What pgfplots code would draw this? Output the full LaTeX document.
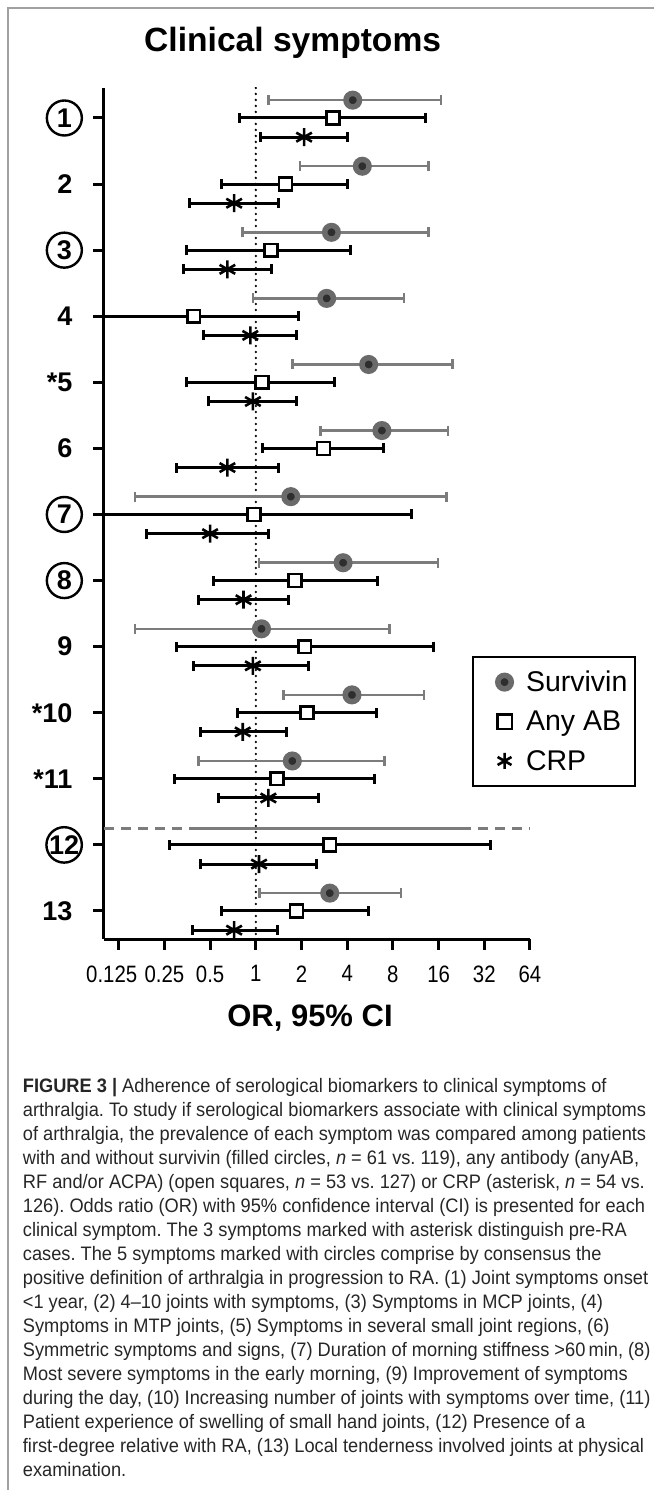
\documentclass[border=0pt]{standalone}
\usepackage{pgfplots}
\pgfplotsset{compat=1.18}
\usepackage{pgfplotstable}
\usepackage{fontspec}
\setmainfont{Liberation Sans}
\newfontfamily\capfont[FakeStretch=0.935]{Liberation Sans}
\newfontfamily\tickfont[FakeStretch=0.86]{Liberation Sans}
\definecolor{survouter}{HTML}{6A6A6A}
\definecolor{survinner}{HTML}{2E2E2E}
\definecolor{survbar}{HTML}{7C7C7C}
\definecolor{framegray}{HTML}{A0A0A0}
\definecolor{captext}{HTML}{262626}

% symptom, odds ratio, lower and upper 95% CI
\pgfplotstableread{
sym est lo hi
1 4.35 1.21 16.6
2 5.03 1.96 13.7
3 3.15 0.82 13.7
4 2.93 0.96 9.5
5 5.54 1.74 19.8
6 6.77 2.67 18.4
7 1.70 0.16 18.0
8 3.76 1.05 15.8
9 1.09 0.16 7.6
10 4.30 1.52 12.8
11 1.74 0.42 7.05
13 3.07 1.06 9.07
}\survivin

\pgfplotstableread{
sym est lo hi
1 3.23 0.776 13.1
2 1.57 0.595 4.0
3 1.26 0.35 4.19
4 0.39 0.08 1.9
5 1.10 0.35 3.31
6 2.79 1.10 6.96
7 0.975 0.08 10.6
8 1.81 0.53 6.36
9 2.10 0.30 14.8
10 2.17 0.76 6.2
11 1.38 0.29 6.05
12 3.07 0.27 35.2
13 1.85 0.59 5.54
}\anyab

\pgfplotstableread{
sym est lo hi
1 2.08 1.08 4.03
2 0.72 0.365 1.42
3 0.65 0.334 1.26
4 0.92 0.45 1.84
5 0.957 0.49 1.84
6 0.65 0.30 1.42
7 0.50 0.19 1.21
8 0.83 0.42 1.65
9 0.957 0.39 2.22
10 0.82 0.43 1.59
11 1.21 0.57 2.59
12 1.05 0.43 2.52
13 0.72 0.38 1.38
}\crp

\begin{document}
\frenchspacing
\begin{tikzpicture}[x=1pt,y=1pt]
\path[use as bounding box] (0,0) rectangle (654,1490);
\draw[framegray, line width=2pt] (7.5,0) -- (7.5,1481.7) -- (654,1481.7);
\node[anchor=base west, inner sep=0pt, font=\bfseries\fontsize{33.6}{36}\selectfont] at (144,1438) {Clinical symptoms};
\begin{axis}[
  at={(104pt,551pt)}, anchor=south west,
  scale only axis, width=426pt, height=851pt,
  xmode=log, log basis x=2,
  xmin=0.1, xmax=64, ymin=0.546, ymax=13.424, y dir=reverse,
  axis x line=bottom, axis y line=left,
  axis line style={-, line width=3pt, black},
  xtick={0.125,0.25,0.5,1,2,4,8,16,32,64},
  xticklabels={0.125\kern14pt,0.25,0.5,1,2,4,8,16,32,64},
  minor x tick num=0, xminorticks=false,
  ytick={2,4,5,6,9,10,11,13},
  yticklabels={2,4,*5,6,9,*10,*11,13},
  extra y ticks={1,3,7,8,12},
  extra y tick labels={1,3,7,8,12},
  extra y tick style={yticklabel style={circle, draw, line width=2.4pt, minimum size=35pt, inner sep=0pt, anchor=east, xshift=7pt}},
  tick align=outside,
  major tick length=11pt,
  tick style={line width=3pt, black},
  xticklabel style={font=\tickfont\fontsize{23.7}{24}\selectfont, yshift=-12pt},
  yticklabel style={font=\bfseries\fontsize{27}{28}\selectfont, anchor=east, xshift=-17pt},
  clip=true,
  legend style={at={(0.864,0.3325)}, anchor=north west, draw=black, line width=2pt,
    font=\fontsize{28.5}{30}\selectfont, inner xsep=6pt, inner ysep=12pt, row sep=14pt},
  legend cell align=left,
  legend image code/.code={\path[draw=none] (-25.5pt,0pt) -- (19.5pt,0pt); \draw[#1] plot coordinates {(0pt,0pt)};},
]
% reference line at OR = 1
\addplot[forget plot, black, line width=2.6pt, line cap=round, dash pattern=on 0pt off 6pt] coordinates {(1,0.546) (1,13.424)};

% Survivin, symptom 12 (estimate not defined)
\addplot[forget plot, survbar, line width=2.8pt, dash pattern=on 10pt off 7pt] coordinates {(0.1,11.75) (64,11.75)};
\addplot[forget plot, survbar, line width=2.8pt] coordinates {(0.37,11.75) (26,11.75)};

\addplot[only marks, mark=*, mark size=6.75pt,
  mark options={draw=survouter, fill=survinner, line width=5.5pt},
  error bars/.cd, x dir=both, x explicit, error mark=|,
  error bar style={line width=2.5pt, survbar},
  error mark options={line width=2.5pt, mark size=5pt, survbar}]
  table[x=est, y expr=\thisrow{sym}-0.27,
        x error plus expr=\thisrow{hi}-\thisrow{est},
        x error minus expr=\thisrow{est}-\thisrow{lo}] {\survivin};
\addlegendentry{Survivin}

\addplot[only marks, mark=square*, mark size=6.4pt,
  mark options={draw=black, fill=white, line width=2.5pt},
  legend image post style={mark size=7.2pt},
  error bars/.cd, x dir=both, x explicit, error mark=|,
  error bar style={line width=3pt, black},
  error mark options={line width=3pt, mark size=5pt, black}]
  table[x=est, y expr=\thisrow{sym},
        x error plus expr=\thisrow{hi}-\thisrow{est},
        x error minus expr=\thisrow{est}-\thisrow{lo}] {\anyab};
\addlegendentry{Any AB}

\addplot[only marks, mark=asterisk, mark size=9pt,
  mark options={draw=black, line width=2.6pt},
  legend image post style={mark size=8pt},
  error bars/.cd, x dir=both, x explicit, error mark=|,
  error bar style={line width=3pt, black},
  error mark options={line width=3pt, mark size=5pt, black}]
  table[x=est, y expr=\thisrow{sym}+0.29,
        x error plus expr=\thisrow{hi}-\thisrow{est},
        x error minus expr=\thisrow{est}-\thisrow{lo}] {\crp};
\addlegendentry{CRP}
\end{axis}

\node[anchor=base, inner sep=0pt, font=\bfseries\fontsize{31}{34}\selectfont] at (310,463) {OR, 95\% CI};

\begin{scope}[every node/.style={anchor=base west, inner sep=0pt, text=captext, font=\capfont\fontsize{19.5}{24}\selectfont}]
\node at (22.7,397) {\textbf{FIGURE 3 |} Adherence of serological biomarkers to clinical symptoms of};
\node at (22.7,373) {arthralgia. To study if serological biomarkers associate with clinical symptoms};
\node at (22.7,349) {of arthralgia, the prevalence of each symptom was compared among patients};
\node at (22.7,325) {with and without survivin (filled circles, \textit{n} = 61 vs. 119), any antibody (anyAB,};
\node at (22.7,301) {RF and/or ACPA) (open squares, \textit{n} = 53 vs. 127) or CRP (asterisk, \textit{n} = 54 vs.};
\node at (22.7,277) {126). Odds ratio (OR) with 95\% confidence interval (CI) is presented for each};
\node at (22.7,253) {clinical symptom. The 3 symptoms marked with asterisk distinguish pre-RA};
\node at (22.7,229) {cases. The 5 symptoms marked with circles comprise by consensus the};
\node at (22.7,205) {positive definition of arthralgia in progression to RA. (1) Joint symptoms onset};
\node at (22.7,181) {<1 year, (2) 4–10 joints with symptoms, (3) Symptoms in MCP joints, (4)};
\node at (22.7,157) {Symptoms in MTP joints, (5) Symptoms in several small joint regions, (6)};
\node at (22.7,133) {Symmetric symptoms and signs, (7) Duration of morning stiffness >60\,min, (8)};
\node at (22.7,109) {Most severe symptoms in the early morning, (9) Improvement of symptoms};
\node at (22.7,85) {during the day, (10) Increasing number of joints with symptoms over time, (11)};
\node at (22.7,61) {Patient experience of swelling of small hand joints, (12) Presence of a};
\node at (22.7,37) {first-degree relative with RA, (13) Local tenderness involved joints at physical};
\node at (22.7,13) {examination.};
\end{scope}
\end{tikzpicture}
\end{document}
